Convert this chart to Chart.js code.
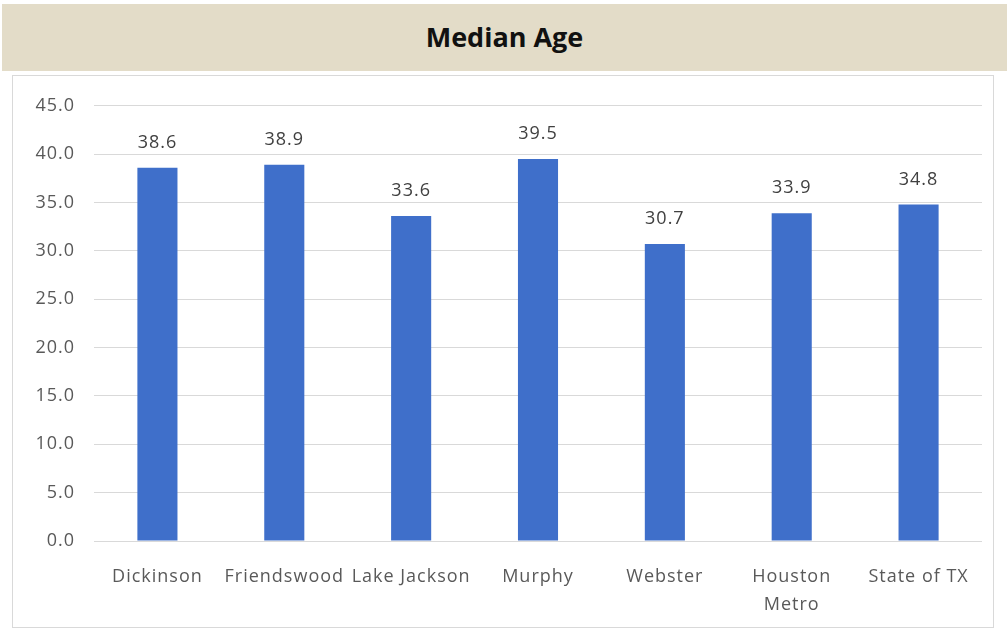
<!DOCTYPE html>
<html>
<head>
<meta charset="utf-8">
<script src="https://cdn.jsdelivr.net/npm/chart.js@4"></script>
<style>
  body { margin: 0; background: #fff; font-family: 'Open Sans', sans-serif; }
  #banner {
    position: absolute; left: 2px; top: 4px; width: 1005px; height: 67px;
    background: #e3dcc8; text-align: center; line-height: 66px;
    font-weight: bold; font-size: 27px; color: #111;
  }
  #box {
    position: absolute; left: 12px; top: 75px; width: 980px; height: 551px;
    border: 1px solid #d9d9d9;
  }
</style>
</head>
<body>
<div id="banner">Median Age</div>
<div id="box"><canvas id="chart" width="980" height="551"></canvas></div>
<script>
const categories = ['Dickinson', 'Friendswood', 'Lake Jackson', 'Murphy', 'Webster', ['Houston', 'Metro'], 'State of TX']
const medianAge = [38.6, 38.9, 33.6, 39.5, 30.7, 33.9, 34.8]

// the reference text is a bit wider than Open Sans, so spread the letters
const spacing = {
  id: 'spacing',
  beforeDraw(chart) { chart.ctx.letterSpacing = '1px' }
}

// draws the value above each bar
const valueLabels = {
  id: 'valueLabels',
  afterDatasetsDraw(chart) {
    const ctx = chart.ctx
    const meta = chart.getDatasetMeta(0)
    ctx.save()
    ctx.font = '18px "Open Sans"'
    ctx.fillStyle = '#404040'
    ctx.textAlign = 'center'
    ctx.textBaseline = 'middle'
    meta.data.forEach((bar, i) => {
      ctx.fillText(medianAge[i].toFixed(1), bar.x, bar.y - 25)
    })
    ctx.restore()
  }
}

new Chart(document.getElementById('chart'), {
  type: 'bar',
  data: {
    labels: categories,
    datasets: [{
      data: medianAge,
      backgroundColor: '#3f6fca',
      barPercentage: 0.316,
      categoryPercentage: 1
    }]
  },
  options: {
    responsive: false,
    animation: false,
    layout: { padding: { top: 28, right: 11, left: 0, bottom: 0 } },
    plugins: { legend: { display: false }, tooltip: { enabled: false } },
    scales: {
      x: {
        grid: { display: false },
        border: { display: false },
        ticks: { color: '#595959', font: { family: 'Open Sans', size: 18, lineHeight: 1.55 }, padding: 14, maxRotation: 0, autoSkip: false },
        afterFit(scale) { scale.height = 86 }
      },
      y: {
        min: 0, max: 45,
        grid: { color: '#d9d9d9', drawTicks: false },
        border: { display: false },
        ticks: { stepSize: 5, color: '#595959', padding: 19, font: { family: 'Open Sans', size: 18 }, callback: v => v.toFixed(1) },
        afterFit(scale) { scale.width = 81 }
      }
    }
  },
  plugins: [spacing, valueLabels]
})
</script>
</body>
</html>
